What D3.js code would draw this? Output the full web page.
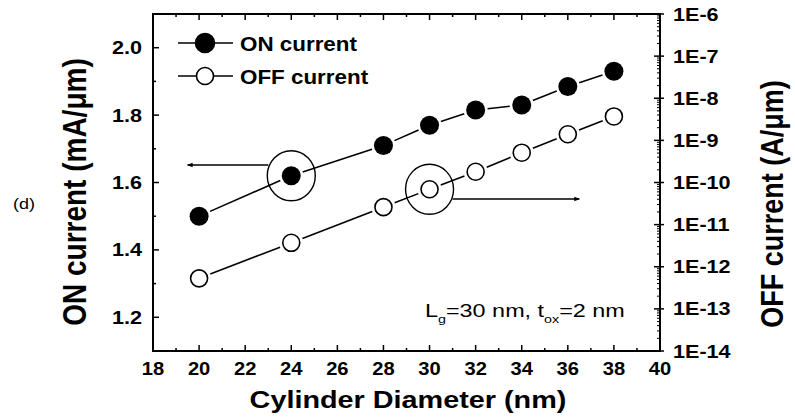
<!DOCTYPE html>
<html>
<head>
<meta charset="utf-8">
<script src="https://cdn.jsdelivr.net/npm/d3@7"></script>
<style>
  body { margin: 0; background: #fff; }
  text { font-family: Arial, "Liberation Sans", sans-serif; fill: #000; }
</style>
</head>
<body>
<div id="chart"></div>
<script>
// data
var diameters = [20, 24, 28, 30, 32, 34, 36, 38];
var onCurrent = [1.50, 1.62, 1.71, 1.77, 1.815, 1.83, 1.885, 1.93];      // mA/um
var offCurrent = [5.3e-13, 3.7e-12, 2.6e-11, 6.9e-11, 1.8e-10, 5.1e-10, 1.4e-9, 3.7e-9]; // A/um

var xTicks = [18, 20, 22, 24, 26, 28, 30, 32, 34, 36, 38, 40];
var yLeftTicks = [1.2, 1.4, 1.6, 1.8, 2.0];
var yRightTicks = [1e-14, 1e-13, 1e-12, 1e-11, 1e-10, 1e-9, 1e-8, 1e-7, 1e-6];
var yRightLabels = ["1E-14", "1E-13", "1E-12", "1E-11", "1E-10", "1E-9", "1E-8", "1E-7", "1E-6"];

var legendNames = ["ON current", "OFF current"];

// annotation: circled point and arrow target (in data units)
var onMark = {x: 24, arrowTo: 19.5, arrowY: 1.652};
var offMark = {x: 30, arrowTo: 36.5, arrowY: 4.07e-11};

var W = 795, H = 418;
var svg = d3.select("#chart").append("svg")
    .attr("width", W).attr("height", H);

var x = d3.scaleLinear().domain([18, 40]).range([153, 660]);
var yL = d3.scaleLinear().domain([1.1, 2.1]).range([351, 14]);
var yR = d3.scaleLog().domain([1e-14, 1e-6]).range([351, 14]);

// text helper, the picture is stretched sideways a little
function label(x0, y0, s, size, weight, anchor, sx, rot) {
    return svg.append("text")
        .attr("transform", "translate(" + x0 + "," + y0 + ") scale(" + sx + ",1)" + (rot ? " rotate(-90)" : ""))
        .attr("font-size", size)
        .attr("font-weight", weight)
        .attr("text-anchor", anchor)
        .text(s);
}

// ticks (inward)
var tk = svg.append("g").attr("stroke", "#000").attr("stroke-width", 1.5);
d3.range(18, 40.01, 1).forEach(function(v) {
    var len = (v % 2 === 0) ? 6 : 3;
    tk.append("line").attr("x1", x(v)).attr("x2", x(v)).attr("y1", 351).attr("y2", 351 - len);
    tk.append("line").attr("x1", x(v)).attr("x2", x(v)).attr("y1", 14).attr("y2", 14 + len);
});
d3.range(1.1, 2.101, 0.1).forEach(function(v) {
    var major = Math.abs(Math.round(v * 10) % 2) === 0;
    var len = major ? 6 : 3;
    tk.append("line").attr("x1", 153).attr("x2", 153 + len).attr("y1", yL(v)).attr("y2", yL(v));
});
yRightTicks.forEach(function(v, i) {
    tk.append("line").attr("x1", 654).attr("x2", 664).attr("y1", yR(v)).attr("y2", yR(v));
    if (i < yRightTicks.length - 1) {
        for (var k = 2; k <= 9; k++) {
            tk.append("line").attr("x1", 657).attr("x2", 660)
                .attr("y1", yR(v * k)).attr("y2", yR(v * k))
                .attr("stroke-width", 1);
        }
    }
});

// frame
svg.append("rect")
    .attr("x", 153).attr("y", 14).attr("width", 507).attr("height", 337)
    .attr("fill", "none").attr("stroke", "#000").attr("stroke-width", 2);

// tick labels
xTicks.forEach(function(v) {
    label(x(v), 375, v, 18, "bold", "middle", 1.12, false);
});
yLeftTicks.forEach(function(v) {
    label(142, yL(v) + 6.5, v.toFixed(1), 18, "bold", "end", 1.2, false);
});
yRightTicks.forEach(function(v, i) {
    label(673, yR(v) + 6.5, yRightLabels[i], 18, "bold", "start", 1.2, false);
});

// axis titles
label(408, 408, "Cylinder Diameter (nm)", 24, "bold", "middle", 1.2, false);
label(86, 192, "ON current (mA/\u03bcm)", 28, "bold", "middle", 1.2, true);
label(783, 204, "OFF current (A/\u03bcm)", 27, "bold", "middle", 1.15, true);
label(13, 209, "(d)", 15, "normal", "start", 1.2, false);

// series lines with gaps round the markers
function gappedLine(pts, gap) {
    var g = svg.append("g").attr("stroke", "#000").attr("stroke-width", 1.6);
    for (var i = 0; i < pts.length - 1; i++) {
        var a = pts[i], b = pts[i + 1];
        var dx = b[0] - a[0], dy = b[1] - a[1];
        var d = Math.sqrt(dx * dx + dy * dy);
        if (d <= 2 * gap) continue;
        var ux = dx / d, uy = dy / d;
        g.append("line")
            .attr("x1", a[0] + ux * gap).attr("y1", a[1] + uy * gap)
            .attr("x2", b[0] - ux * gap).attr("y2", b[1] - uy * gap);
    }
}

var onPts = diameters.map(function(d, i) { return [x(d), yL(onCurrent[i])]; });
var offPts = diameters.map(function(d, i) { return [x(d), yR(offCurrent[i])]; });
gappedLine(onPts, 12);
gappedLine(offPts, 12);

svg.append("g").selectAll("circle")
    .data(onPts).enter().append("circle")
    .attr("cx", function(d) { return d[0]; })
    .attr("cy", function(d) { return d[1]; })
    .attr("r", 9.5)
    .attr("fill", "#000");

svg.append("g").selectAll("circle")
    .data(offPts).enter().append("circle")
    .attr("cx", function(d) { return d[0]; })
    .attr("cy", function(d) { return d[1]; })
    .attr("r", 8.5)
    .attr("fill", "#fff").attr("stroke", "#000").attr("stroke-width", 1.6);

// annotation circles and arrows
svg.append("defs").append("marker")
    .attr("id", "ah").attr("viewBox", "0 0 10 10")
    .attr("refX", 9).attr("refY", 5)
    .attr("markerWidth", 6).attr("markerHeight", 4)
    .attr("orient", "auto")
    .append("path").attr("d", "M0,1L10,5L0,9Z").attr("fill", "#000");

var ann = svg.append("g").attr("fill", "none").attr("stroke", "#000").attr("stroke-width", 1.4);
var onIdx = diameters.indexOf(onMark.x);
var offIdx = diameters.indexOf(offMark.x);
ann.append("ellipse")
    .attr("cx", x(onMark.x)).attr("cy", yL(onCurrent[onIdx]))
    .attr("rx", 24).attr("ry", 25);
ann.append("line")
    .attr("x1", x(onMark.x) - 23).attr("y1", yL(onMark.arrowY))
    .attr("x2", x(onMark.arrowTo)).attr("y2", yL(onMark.arrowY))
    .attr("marker-end", "url(#ah)");
ann.append("ellipse")
    .attr("cx", x(offMark.x)).attr("cy", yR(offCurrent[offIdx]))
    .attr("rx", 24).attr("ry", 25);
ann.append("line")
    .attr("x1", x(offMark.x) + 23).attr("y1", yR(offMark.arrowY))
    .attr("x2", x(offMark.arrowTo)).attr("y2", yR(offMark.arrowY))
    .attr("marker-end", "url(#ah)");

// inset note
var note = svg.append("text")
    .attr("transform", "translate(425,317) scale(1.3,1)")
    .attr("font-size", 18);
note.append("tspan").text("L");
note.append("tspan").attr("font-size", 11).attr("dy", 6).text("g");
note.append("tspan").attr("dy", -6).text("=30 nm, t");
note.append("tspan").attr("font-size", 11).attr("dy", 6).text("ox");
note.append("tspan").attr("dy", -6).text("=2 nm");

// legend
legendNames.forEach(function(name, i) {
    var ly = 43 + i * 33;
    svg.append("line")
        .attr("x1", 178).attr("x2", 233).attr("y1", ly).attr("y2", ly)
        .attr("stroke", "#000").attr("stroke-width", 1.6);
    svg.append("circle")
        .attr("cx", 205).attr("cy", ly).attr("r", i === 0 ? 9.5 : 8.5)
        .attr("fill", i === 0 ? "#000" : "#fff")
        .attr("stroke", "#000").attr("stroke-width", 1.6);
    label(240, ly + 7.5, name, 20, "bold", "start", 1.12, false);
});
</script>
</body>
</html>
